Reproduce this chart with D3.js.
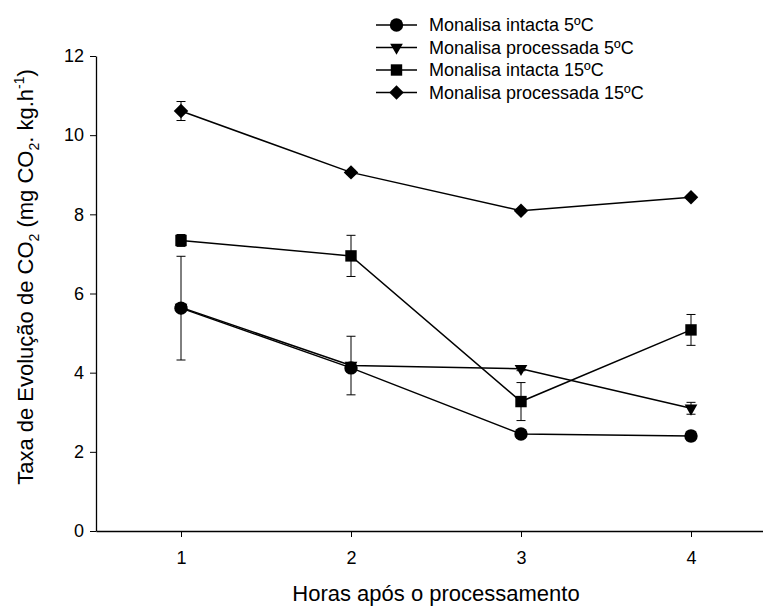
<!DOCTYPE html>
<html>
<head>
<meta charset="utf-8">
<script src="https://cdn.jsdelivr.net/npm/d3@7"></script>
<style>
  html, body { margin: 0; padding: 0; background: #fff; }
  svg { display: block; font-family: "Liberation Sans", Arial, sans-serif; }
</style>
</head>
<body>
<div id="chart"></div>
<script>
// x categories (hours after processing)
const hours = [1, 2, 3, 4];
const seriesNames = [
  "Monalisa intacta 5ºC",
  "Monalisa processada 5ºC",
  "Monalisa intacta 15ºC",
  "Monalisa processada 15ºC"
];
const yTicks = [0, 2, 4, 6, 8, 10, 12];

// mean values
const intacta5 = [5.63, 4.12, 2.45, 2.40];
const processada5 = [5.65, 4.18, 4.10, 3.10];
const intacta15 = [7.34, 6.95, 3.27, 5.08];
const processada15 = [10.61, 9.06, 8.09, 8.43];

// error bar half-widths
const intacta5Err = [1.31, 0.06, 0.10, 0.12];
const processada5Err = [0.10, 0.74, 0.05, 0.15];
const intacta15Err = [0.15, 0.52, 0.48, 0.39];
const processada15Err = [0.24, 0.05, 0.05, 0.05];

(function() {
  const width = 763, height = 606;

  const series = [
    { name: seriesNames[0], values: intacta5, err: intacta5Err, shape: "circle" },
    { name: seriesNames[1], values: processada5, err: processada5Err, shape: "triangle" },
    { name: seriesNames[2], values: intacta15, err: intacta15Err, shape: "square" },
    { name: seriesNames[3], values: processada15, err: processada15Err, shape: "diamond" }
  ];

  const x = d3.scaleLinear().domain([0.5, 4.5]).range([96, 776]);
  const y = d3.scaleLinear().domain([0, 12]).range([531, 56]);

  const svg = d3.select("#chart").append("svg")
    .attr("width", width)
    .attr("height", height);

  // axes
  const yAxis = svg.append("g")
    .attr("transform", `translate(${x.range()[0]},0)`)
    .call(d3.axisLeft(y).tickValues(yTicks).tickSize(6).tickSizeOuter(0).tickPadding(6));

  const xAxis = svg.append("g")
    .attr("transform", `translate(0,${y(0)})`)
    .call(d3.axisBottom(x).tickValues(hours).tickFormat(d3.format("d"))
      .tickSize(6).tickSizeOuter(0).tickPadding(14));

  [yAxis, xAxis].forEach(ax => {
    ax.selectAll("path.domain").attr("stroke", "#000").attr("stroke-width", 1.3);
    ax.selectAll(".tick line").attr("stroke", "#000").attr("stroke-width", 1);
    ax.selectAll(".tick text")
      .attr("fill", "#000")
      .attr("font-size", "18px")
      .attr("font-family", '"Liberation Sans", Arial, sans-serif');
  });

  // marker shapes
  function symbolPath(shape) {
    if (shape === "circle") return d3.symbol(d3.symbolCircle, 140)();
    if (shape === "triangle") return d3.symbol(d3.symbolTriangle, 70)();
    if (shape === "square") return d3.symbol(d3.symbolSquare, 130)();
    return d3.symbol(d3.symbolSquare, 105)();
  }
  function symbolRotate(shape) {
    if (shape === "triangle") return 180;
    if (shape === "diamond") return 45;
    return 0;
  }

  const line = d3.line()
    .x((d, i) => x(hours[i]))
    .y(d => y(d));

  // lines
  svg.selectAll(".series-line")
    .data(series)
    .enter()
    .append("path")
    .attr("class", "series-line")
    .attr("d", d => line(d.values))
    .attr("fill", "none")
    .attr("stroke", "#000")
    .attr("stroke-width", 1.5);

  // error bars
  const capW = 4.5;
  series.forEach(s => {
    const g = svg.append("g").attr("class", "err");
    s.values.forEach((v, i) => {
      const cx = x(hours[i]);
      const y1 = y(v + s.err[i]);
      const y2 = y(v - s.err[i]);
      g.append("line")
        .attr("x1", cx).attr("x2", cx)
        .attr("y1", y1).attr("y2", y2)
        .attr("stroke", "#000").attr("stroke-width", 1);
      [y1, y2].forEach(yy => {
        g.append("line")
          .attr("x1", cx - capW).attr("x2", cx + capW)
          .attr("y1", yy).attr("y2", yy)
          .attr("stroke", "#000").attr("stroke-width", 1);
      });
    });
  });

  // markers
  series.forEach(s => {
    svg.append("g")
      .selectAll("path")
      .data(s.values)
      .enter()
      .append("path")
      .attr("d", symbolPath(s.shape))
      .attr("transform", (d, i) => `translate(${x(hours[i])},${y(d)}) rotate(${symbolRotate(s.shape)})`)
      .attr("fill", "#000");
  });

  // legend
  const legend = svg.append("g").attr("transform", "translate(376,25)");
  const rowH = 22.5;
  series.forEach((s, i) => {
    const row = legend.append("g").attr("transform", `translate(0,${i * rowH})`);
    row.append("line")
      .attr("x1", 0).attr("x2", 41)
      .attr("y1", 0).attr("y2", 0)
      .attr("stroke", "#000").attr("stroke-width", 1.5);
    row.append("path")
      .attr("d", symbolPath(s.shape))
      .attr("transform", `translate(20.5,0) rotate(${symbolRotate(s.shape)})`)
      .attr("fill", "#000");
    row.append("text")
      .attr("x", 53)
      .attr("y", 0)
      .attr("dy", "0.35em")
      .attr("font-size", "18px")
      .attr("fill", "#000")
      .text(s.name);
  });

  // x axis title
  svg.append("text")
    .attr("x", (x.range()[0] + x.range()[1]) / 2)
    .attr("y", 601)
    .attr("text-anchor", "middle")
    .attr("font-size", "22px")
    .attr("fill", "#000")
    .text("Horas após o processamento");

  // y axis title with subscripts and superscript
  const yt = svg.append("text")
    .attr("transform", "translate(33,277) rotate(-90)")
    .attr("text-anchor", "middle")
    .attr("font-size", "22px")
    .attr("fill", "#000");
  const parts = [
    { t: "Taxa de Evolução de CO", s: 0 },
    { t: "2", s: 1 },
    { t: " (mg CO", s: 0 },
    { t: "2", s: 1 },
    { t: ". kg.h", s: 0 },
    { t: "-1", s: -1 },
    { t: ")", s: 0 }
  ];
  let prev = 0;
  parts.forEach(p => {
    const off = p.s === 1 ? 6 : p.s === -1 ? -9 : 0;
    yt.append("tspan")
      .attr("dy", off - prev)
      .attr("font-size", p.s === 0 ? "22px" : "14px")
      .text(p.t);
    prev = off;
  });
})();
</script>
</body>
</html>
